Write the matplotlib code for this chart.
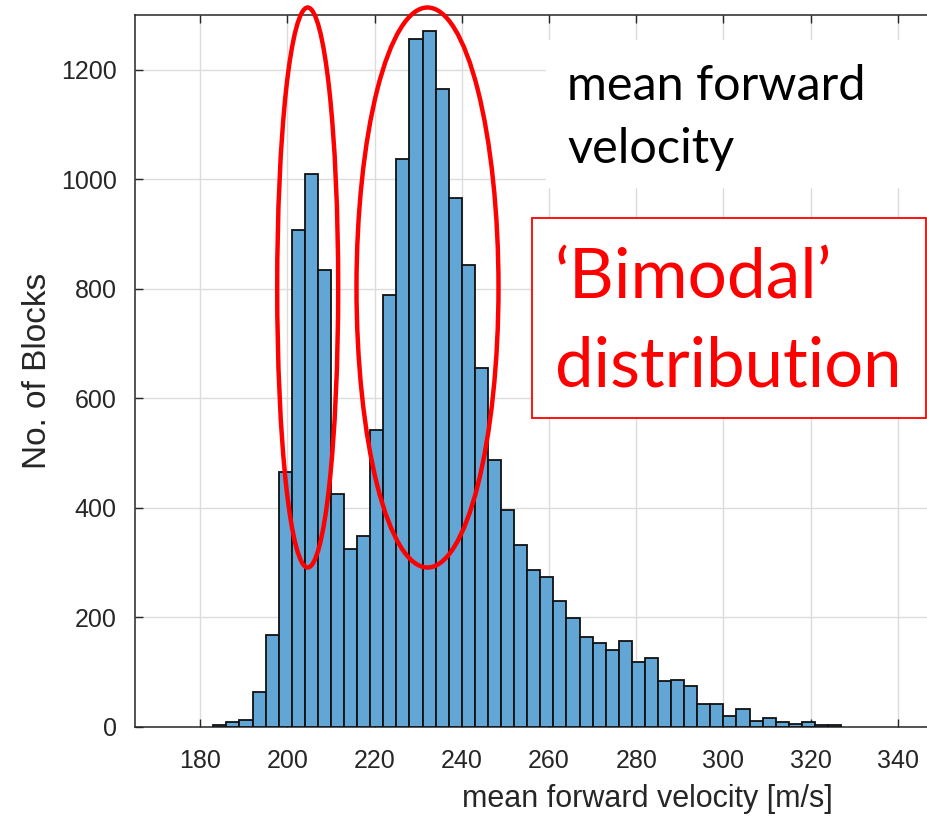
import numpy as np
import matplotlib
matplotlib.use("Agg")
import matplotlib.pyplot as plt
from matplotlib.patches import Ellipse, Rectangle

# histogram of mean forward velocity, bins of 3 m/s starting at 183
bin_start = 183
bin_width = 3
counts = [4, 8, 12, 63, 168, 465, 908, 1010, 835, 425,
          325, 348, 542, 788, 1037, 1256, 1271, 1165, 966, 843,
          655, 487, 395, 332, 286, 274, 230, 199, 164, 153,
          141, 157, 118, 125, 84, 86, 74, 42, 42, 20,
          32, 11, 16, 8, 5, 9, 3, 3]
x_ticks = [180, 200, 220, 240, 260, 280, 300, 320, 340]
y_ticks = [0, 200, 400, 600, 800, 1000, 1200]
x_label = "mean forward velocity [m/s]"
y_label = "No. of Blocks"
note_lines = ["mean forward", "velocity"]
red_lines = ["\u2018Bimodal\u2019", "distribution"]

W, H = 927, 817
fig = plt.figure(figsize=(W / 100, H / 100), dpi=100)

def fx(px):
    return px / W

def fy(py):
    return 1 - py / H

# axes placed so the picture is a crop of a wider MATLAB figure
ax_l, ax_r, ax_t, ax_b = 134.8, 134.8 + 235 * 4.36, 15.0, 726.7
ax = fig.add_axes([fx(ax_l), fy(ax_b), (ax_r - ax_l) / W, (ax_b - ax_t) / H])

lefts = bin_start + bin_width * np.arange(len(counts))
ax.bar(lefts, counts, width=bin_width, align='edge', color='#62a6d6',
       edgecolor='#111111', linewidth=1.3, zorder=3)

ax.set_xlim(165, 400)
ax.set_ylim(0, 1300)
ax.set_xticks(x_ticks)
ax.set_xticks([360, 380, 400], minor=True)
ax.set_yticks(y_ticks)
ax.grid(True, color='#dcdcdc', linewidth=1.0, zorder=0)
ax.set_axisbelow(True)
ax.tick_params(direction='in', length=6, width=1, color='#262626',
               labelcolor='#262626', labelsize=18, top=True, right=True)
ax.tick_params(axis='x', pad=16)
ax.tick_params(axis='y', pad=13)
for s in ax.spines.values():
    s.set_color('#262626')
    s.set_linewidth(1.1)
for lab in ax.get_xticklabels() + ax.get_yticklabels():
    lab.set_family(['Liberation Sans', 'DejaVu Sans'])

ax.set_xlabel(x_label, fontsize=22, color='#262626', labelpad=8,
              family=['Liberation Sans', 'DejaVu Sans'])
ax.set_ylabel(y_label, fontsize=24, color='#262626', labelpad=6,
              family=['Liberation Sans', 'DejaVu Sans'])

# white box behind the black note (hides the grid)
fig.patches.append(Rectangle((fx(546), fy(188)), fx(927) - fx(546), fy(40) - fy(188),
                             transform=fig.transFigure, facecolor='white',
                             edgecolor='none', zorder=5))
fig.text(fx(567), fy(100), note_lines[0], fontsize=35, family='Lato',
         color='black', va='baseline', zorder=6)
fig.text(fx(567), fy(163), note_lines[1], fontsize=35, family='Lato',
         color='black', va='baseline', zorder=6)

# red framed box
fig.patches.append(Rectangle((fx(531.7), fy(418.3)), fx(926) - fx(531.7),
                             fy(218.3) - fy(418.3), transform=fig.transFigure,
                             facecolor='white', edgecolor='#ff0000',
                             linewidth=1.3, zorder=5))
fig.text(fx(555), fy(298), red_lines[0], fontsize=50, family='Lato',
         color='#ff0000', va='baseline', zorder=6)
fig.text(fx(555), fy(387), red_lines[1], fontsize=49.5, family='Lato',
         color='#ff0000', va='baseline', zorder=6)

# red ellipses around the two peaks
for cx, wpx in [(307.7, 61), (427.5, 142)]:
    cy, hpx = 287.5, 560
    fig.patches.append(Ellipse((fx(cx), fy(cy)), wpx / W, hpx / H,
                               transform=fig.transFigure, fill=False,
                               edgecolor='#ff0000', linewidth=3.2, zorder=7))

fig.savefig("out.png", dpi=100)
